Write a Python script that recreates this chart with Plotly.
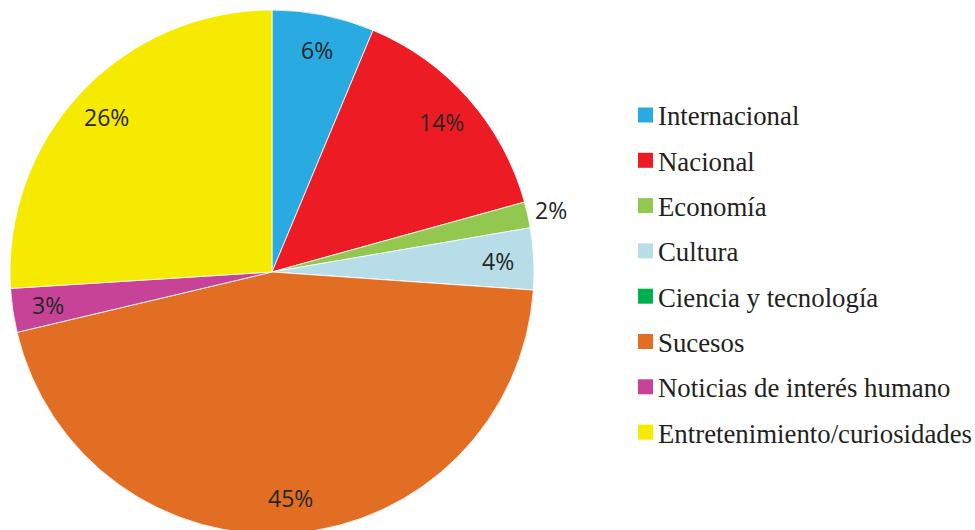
import math
import plotly.graph_objects as go

categories = ["Internacional", "Nacional", "Economía", "Cultura",
              "Ciencia y tecnología", "Sucesos",
              "Noticias de interés humano", "Entretenimiento/curiosidades"]
values = [6.3, 14.4, 1.6, 3.8, 0.0, 45.2, 2.7, 26.0]
colors = ["#29ABE2", "#ED1C24", "#92C84F", "#B7DDE8",
          "#00B050", "#E26E23", "#C74398", "#F5EA00"]
outside_label = [False, False, True, False, False, False, False, False]

W, H = 975, 544
PIE_X0, PIE_X1 = 10, 534          # pie domain in pixels
CX, CY = (PIE_X0 + PIE_X1) / 2, H / 2
R = (PIE_X1 - PIE_X0) / 2

fig = go.Figure(go.Pie(
    labels=categories, values=values, sort=False, direction="clockwise",
    rotation=0,
    marker=dict(colors=colors, line=dict(color="white", width=0.8)),
    textinfo="none",
    domain=dict(x=[PIE_X0 / W, PIE_X1 / W], y=[0, 1]),
    showlegend=False, hoverinfo="label+percent",
))

# percentage labels, placed from the slice mid-angles
total = sum(values)
cum = 0.0
for v, out in zip(values, outside_label):
    mid = (cum + v / 2) / total
    cum += v
    if v <= 0:
        continue
    ang = 2 * math.pi * mid
    rr = R * (1.09 if out else 0.865)
    px = CX + rr * math.sin(ang)
    py = CY - rr * math.cos(ang)
    fig.add_annotation(xref="paper", yref="paper", x=px / W, y=1 - py / H,
                       text=f"{v / total:.0%}", showarrow=False,
                       xanchor="center", yanchor="middle",
                       font=dict(family="Open Sans", size=23, color="#262626"))

# legend
for i, (name, color) in enumerate(zip(categories, colors)):
    cy = 115 + 45.3 * i
    fig.add_shape(type="rect", xref="paper", yref="paper",
                  x0=638 / W, x1=653 / W,
                  y0=1 - (cy + 7.5) / H, y1=1 - (cy - 7.5) / H,
                  fillcolor=color, line_width=0)
    fig.add_annotation(xref="paper", yref="paper", x=656 / W, y=1 - (cy + 1.5) / H,
                       text=name, showarrow=False, xanchor="left", yanchor="middle",
                       font=dict(family="Liberation Serif", size=26.8, color="#231F20"))

fig.update_layout(width=W, height=H, margin=dict(l=0, r=0, t=0, b=0),
                  paper_bgcolor="white", plot_bgcolor="white")

fig.write_html("out.html", config={"displayModeBar": False},
               post_script="document.body.style.margin='0';document.body.style.overflow='hidden';")
